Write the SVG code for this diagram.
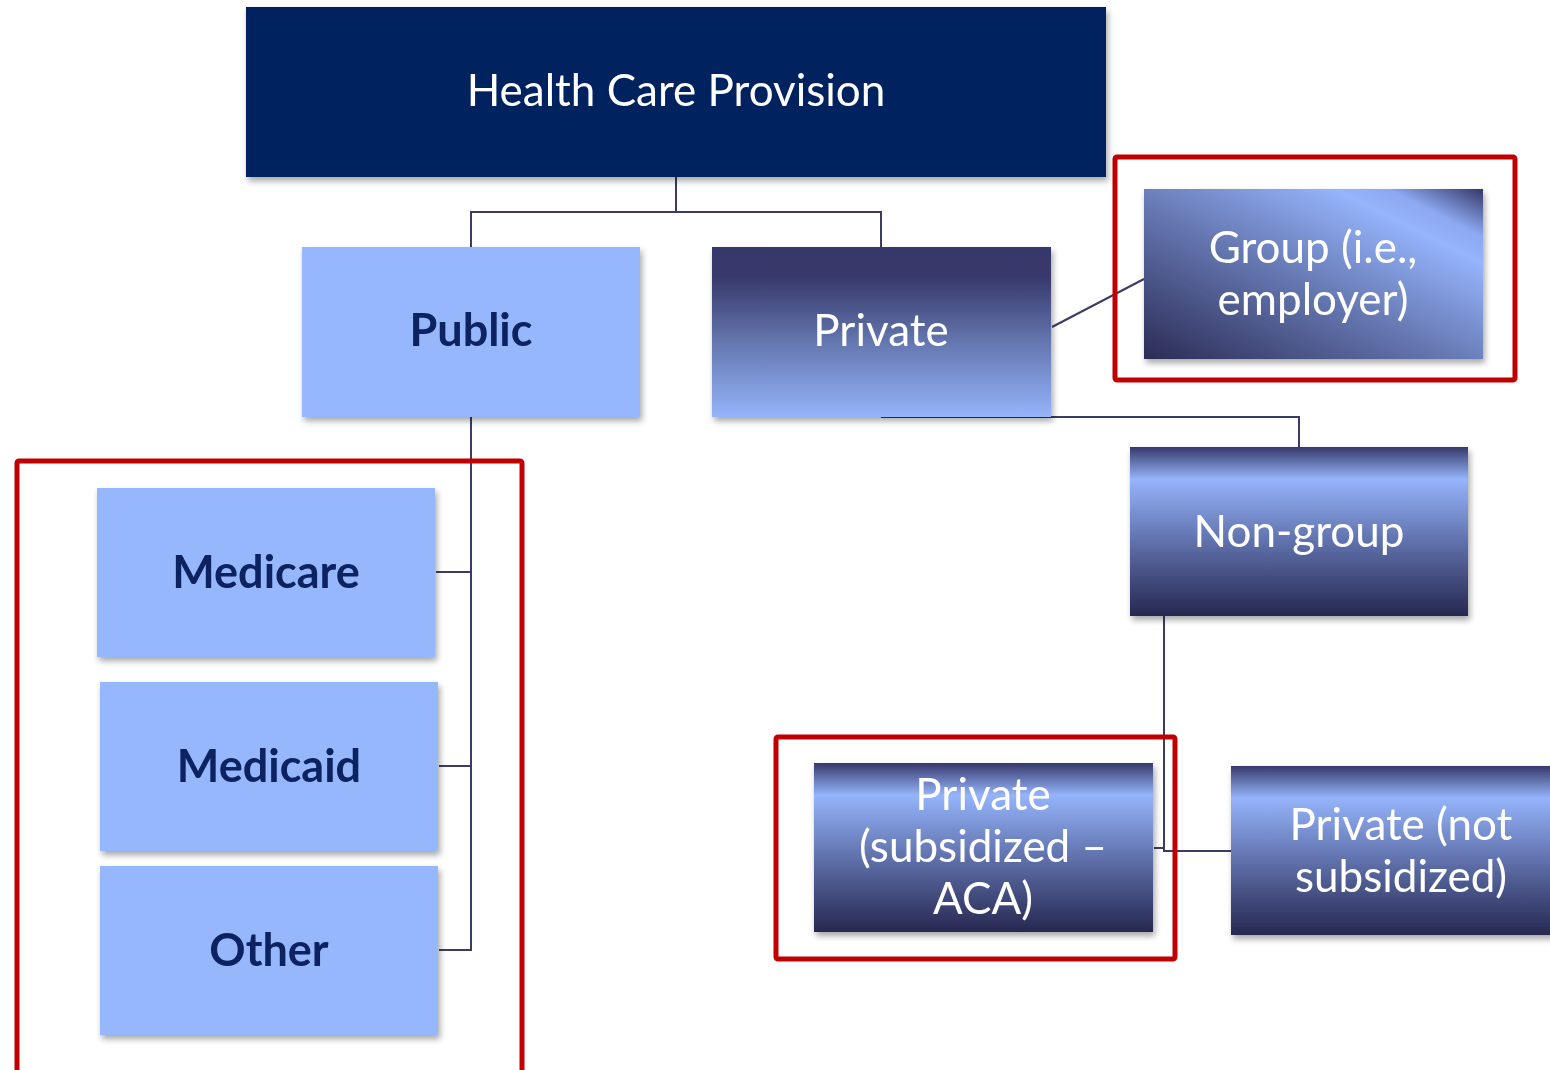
<svg xmlns="http://www.w3.org/2000/svg" width="1550" height="1070" viewBox="0 0 1550 1070">
  <style>
    .lbl { font-family: Lato, "Open Sans", "Liberation Sans", sans-serif; font-size: 44px; text-anchor: middle; }
    .light { fill: #ffffff; }
    .bold { font-weight: bold; font-size: 45px; fill: #0b2160; }
    .conn { fill: none; stroke: #3a3b66; stroke-width: 2; }
    .hl { fill: none; stroke: #c00000; stroke-width: 5; }
    .pale { fill: #97b7fc; }
  </style>
  <defs>
    <filter id="shadow" x="-10%" y="-10%" width="125%" height="130%">
      <feDropShadow dx="2" dy="4" stdDeviation="3" flood-color="#000" flood-opacity="0.35"/>
    </filter>
    <linearGradient id="gPrivate" x1="0" y1="0" x2="0" y2="1">
      <stop offset="0" stop-color="#36376a"/>
      <stop offset="0.18" stop-color="#38396c"/>
      <stop offset="0.55" stop-color="#6375ad"/>
      <stop offset="1" stop-color="#95b4fb"/>
    </linearGradient>
    <linearGradient id="gBand" x1="0" y1="0" x2="0" y2="1">
      <stop offset="0" stop-color="#37396b"/>
      <stop offset="0.19" stop-color="#95b4fb"/>
      <stop offset="0.6" stop-color="#5a6aa3"/>
      <stop offset="1" stop-color="#262850"/>
    </linearGradient>
    <linearGradient id="gGroup" x1="0" y1="1" x2="1" y2="0">
      <stop offset="0" stop-color="#2b2c55"/>
      <stop offset="0.45" stop-color="#6577b1"/>
      <stop offset="0.78" stop-color="#95b4fb"/>
      <stop offset="0.86" stop-color="#8ca8f0"/>
      <stop offset="1" stop-color="#353768"/>
    </linearGradient>
  </defs>

  <!-- connectors -->
  <g id="connectors">
    <path class="conn" d="M676,177 V212 H471 V247"/>
    <path class="conn" d="M676,212 H881 V247"/>
    <path class="conn" d="M1052,327 L1144,279"/>
    <path class="conn" d="M881,417 H1299 V447"/>
    <path class="conn" d="M471,417 V950 H439"/>
    <path class="conn" d="M471,572 H436"/>
    <path class="conn" d="M471,766 H439"/>
    <path class="conn" d="M1164,616 V848 H1154"/>
    <path class="conn" d="M1164,616 V851 H1231"/>
  </g>

  <!-- nodes -->
  <g id="node-root" filter="url(#shadow)">
    <rect x="246" y="7" width="860" height="170" fill="#03215f"/>
    <text class="lbl light" x="676" y="106">Health Care Provision</text>
  </g>

  <g id="node-public" filter="url(#shadow)">
    <rect class="pale" x="302" y="247" width="338" height="170"/>
    <text class="lbl bold" x="471" y="346">Public</text>
  </g>

  <g id="node-private" filter="url(#shadow)">
    <rect x="712" y="247" width="339" height="170" fill="url(#gPrivate)"/>
    <text class="lbl light" x="881" y="346">Private</text>
  </g>

  <g id="node-group" filter="url(#shadow)">
    <rect x="1144" y="189" width="339" height="170" fill="url(#gGroup)"/>
    <text class="lbl light" x="1313" y="263">Group (i.e.,</text>
    <text class="lbl light" x="1313" y="315">employer)</text>
  </g>

  <g id="node-nongroup" filter="url(#shadow)">
    <rect x="1130" y="447" width="338" height="169" fill="url(#gBand)"/>
    <text class="lbl light" x="1299" y="547">Non-group</text>
  </g>

  <g id="node-aca" filter="url(#shadow)">
    <rect x="814" y="763" width="339" height="169" fill="url(#gBand)"/>
    <text class="lbl light" x="983" y="810">Private</text>
    <text class="lbl light" x="983" y="862">(subsidized –</text>
    <text class="lbl light" x="983" y="914">ACA)</text>
  </g>

  <g id="node-unsubsidized" filter="url(#shadow)">
    <rect x="1231" y="766" width="340" height="169" fill="url(#gBand)"/>
    <text class="lbl light" x="1401" y="840">Private (not</text>
    <text class="lbl light" x="1401" y="892">subsidized)</text>
  </g>

  <g id="node-medicare" filter="url(#shadow)">
    <rect class="pale" x="97" y="488" width="338" height="169"/>
    <text class="lbl bold" x="266" y="588">Medicare</text>
  </g>

  <g id="node-medicaid" filter="url(#shadow)">
    <rect class="pale" x="100" y="682" width="338" height="169"/>
    <text class="lbl bold" x="269" y="782">Medicaid</text>
  </g>

  <g id="node-other" filter="url(#shadow)">
    <rect class="pale" x="100" y="866" width="338" height="169"/>
    <text class="lbl bold" x="269" y="966">Other</text>
  </g>

  <!-- highlight frames -->
  <g id="highlights">
    <rect class="hl" x="1115" y="157" width="400" height="223" rx="2"/>
    <rect class="hl" x="776" y="737" width="399" height="222" rx="2"/>
    <rect class="hl" x="17" y="461" width="505" height="620" rx="2"/>
  </g>
</svg>
